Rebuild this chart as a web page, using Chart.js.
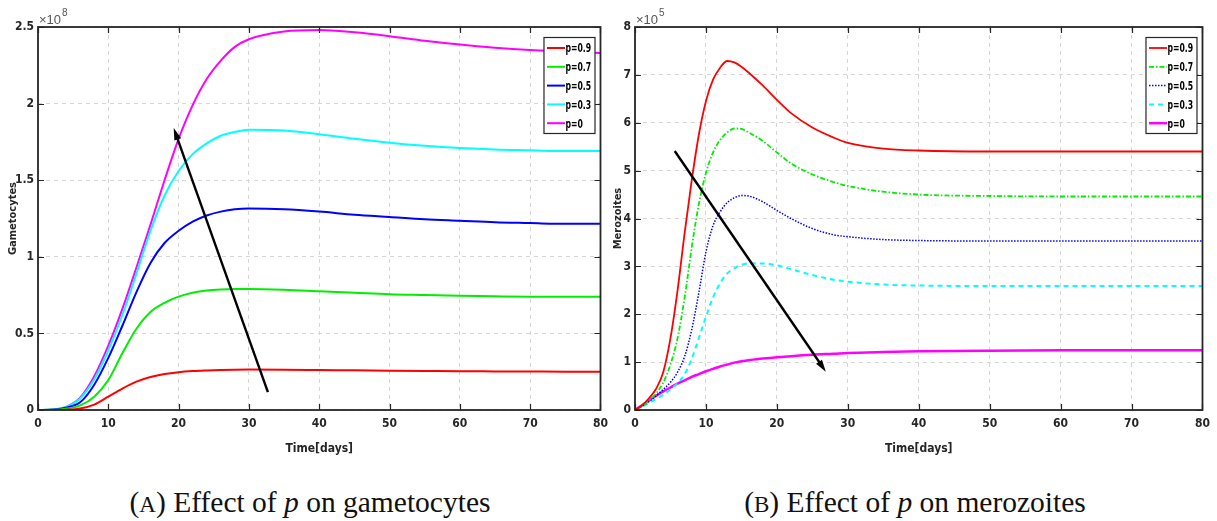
<!DOCTYPE html>
<html>
<head>
<meta charset="utf-8">
<script src="https://cdn.jsdelivr.net/npm/chart.js@4.4.1/dist/chart.umd.min.js"></script>
<style>
  body { margin: 0; background: #fff; width: 1217px; height: 521px; position: relative; overflow: hidden; }
  .panel { position: absolute; top: 0; height: 470px; }
  .caption { position: absolute; top: 484px; font-family: 'Liberation Serif', 'Times New Roman', serif; font-size: 29.5px; line-height: 36px; color: #111; white-space: nowrap; transform: translateX(-50%); }
  .sc { font-size: 0.78em; }
</style>
</head>
<body>
<div class="panel" style="left:0;width:615px"><canvas id="gameto"></canvas></div>
<div class="panel" style="left:612px;width:605px"><canvas id="merozo"></canvas></div>
<div class="caption" style="left:310px">(<span class="sc">A</span>) Effect of <i>p</i> on gametocytes</div>
<div class="caption" style="left:915px">(<span class="sc">B</span>) Effect of <i>p</i> on merozoites</div>

<script>
// time points (days)
const gametoDays = [0, 2, 4, 6, 8, 10, 12, 14, 16, 18, 20, 22, 24, 26, 28, 30, 35, 40, 45, 50, 55, 60, 65, 70, 75, 80];
const merozoDays = [0, 1, 2, 3, 4, 5, 6, 7, 8, 9, 10, 11, 12, 13, 14, 15, 16, 18, 20, 22, 25, 28, 30, 35, 40, 50, 60, 70, 80];

const pLabels = ['p=0.9', 'p=0.7', 'p=0.5', 'p=0.3', 'p=0'];

// gametocytes, x10^8
const gameto09 = [0, 0, 0.002, 0.01, 0.035, 0.087, 0.14, 0.185, 0.215, 0.235, 0.247, 0.254, 0.258, 0.261, 0.263, 0.264, 0.263, 0.261, 0.259, 0.257, 0.255, 0.253, 0.252, 0.251, 0.25, 0.25];
const gameto07 = [0, 0.001, 0.008, 0.03, 0.087, 0.196, 0.37, 0.53, 0.64, 0.7, 0.74, 0.765, 0.78, 0.787, 0.79, 0.79, 0.785, 0.775, 0.765, 0.755, 0.75, 0.745, 0.742, 0.74, 0.74, 0.74];
const gameto05 = [0, 0.002, 0.015, 0.05, 0.165, 0.34, 0.55, 0.77, 0.96, 1.09, 1.17, 1.23, 1.27, 1.295, 1.31, 1.315, 1.31, 1.295, 1.275, 1.26, 1.245, 1.235, 1.225, 1.22, 1.215, 1.215];
const gameto03 = [0, 0.003, 0.02, 0.075, 0.2, 0.39, 0.62, 0.89, 1.17, 1.4, 1.56, 1.67, 1.74, 1.79, 1.815, 1.83, 1.825, 1.8, 1.77, 1.745, 1.725, 1.71, 1.7, 1.695, 1.69, 1.69];
const gameto00 = [0, 0.003, 0.02, 0.08, 0.22, 0.42, 0.66, 0.93, 1.21, 1.5, 1.77, 1.99, 2.16, 2.28, 2.37, 2.42, 2.47, 2.48, 2.465, 2.44, 2.41, 2.385, 2.365, 2.35, 2.34, 2.33];

// merozoites, x10^5
const merozo09 = [0, 0.1, 0.25, 0.45, 0.8, 1.5, 2.5, 3.7, 4.8, 5.75, 6.45, 6.9, 7.15, 7.29, 7.26, 7.17, 7.05, 6.78, 6.48, 6.2, 5.9, 5.69, 5.58, 5.46, 5.42, 5.4, 5.4, 5.4, 5.4];
const merozo07 = [0, 0.09, 0.2, 0.35, 0.58, 0.95, 1.5, 2.35, 3.4, 4.3, 4.95, 5.38, 5.64, 5.8, 5.88, 5.87, 5.8, 5.62, 5.38, 5.15, 4.92, 4.76, 4.68, 4.56, 4.5, 4.47, 4.46, 4.46, 4.46];
const merozo05 = [0, 0.08, 0.18, 0.3, 0.43, 0.58, 0.79, 1.12, 1.68, 2.45, 3.3, 3.85, 4.14, 4.33, 4.43, 4.48, 4.47, 4.35, 4.17, 4.0, 3.79, 3.66, 3.62, 3.56, 3.54, 3.53, 3.53, 3.53, 3.53];
const merozo03 = [0, 0.07, 0.15, 0.23, 0.32, 0.43, 0.56, 0.75, 1.07, 1.5, 1.95, 2.35, 2.65, 2.85, 2.96, 3.03, 3.06, 3.06, 3.02, 2.94, 2.82, 2.72, 2.68, 2.62, 2.6, 2.59, 2.59, 2.59, 2.59];
const merozo00 = [0, 0.1, 0.2, 0.3, 0.39, 0.47, 0.55, 0.62, 0.69, 0.75, 0.81, 0.86, 0.91, 0.95, 0.99, 1.02, 1.04, 1.075, 1.1, 1.125, 1.155, 1.175, 1.19, 1.21, 1.225, 1.24, 1.248, 1.25, 1.25];

const xTicks = [0, 10, 20, 30, 40, 50, 60, 70, 80];
const gametoTicks = [0, 0.5, 1, 1.5, 2, 2.5];
const merozoTicks = [0, 1, 2, 3, 4, 5, 6, 7, 8];

const colors = ['#ff0000', '#00ee00', '#0000ff', '#00ffff', '#ff00ff'];
const fontFamily = "'Liberation Sans Narrow', 'DejaVu Sans Condensed', Arial, sans-serif";
const axisFont = { family: fontFamily, size: 12, weight: 'bold' };
const ink = '#262626';

function series(days, values) {
  return days.map((d, i) => ({ x: d, y: values[i] }));
}

// frame, inward ticks, exponent, arrow and boxed legend
const decorPlugin = {
  id: 'decor',
  afterDraw(chart, args, opts) {
    const { ctx, chartArea: a, scales } = chart;
    const sx = scales.x, sy = scales.y;
    ctx.save();

    ctx.strokeStyle = ink;
    ctx.lineWidth = 1.2;
    ctx.beginPath();
    xTicks.forEach(v => {
      const px = Math.round(sx.getPixelForValue(v)) + 0.5;
      ctx.moveTo(px, a.bottom); ctx.lineTo(px, a.bottom - 6);
      ctx.moveTo(px, a.top); ctx.lineTo(px, a.top + 6);
    });
    opts.yTicks.forEach(v => {
      const py = Math.round(sy.getPixelForValue(v)) + 0.5;
      ctx.moveTo(a.left, py); ctx.lineTo(a.left + 6, py);
      ctx.moveTo(a.right, py); ctx.lineTo(a.right - 6, py);
    });
    ctx.stroke();
    ctx.lineWidth = 1.8;
    ctx.strokeRect(a.left, a.top, a.width, a.height);

    // x10^n above the y axis
    ctx.fillStyle = '#555';
    ctx.textBaseline = 'alphabetic';
    ctx.textAlign = 'left';
    ctx.font = "13px 'Liberation Sans', Arial, sans-serif";
    ctx.fillText('\u00d710', a.left + 1, a.top - 3);
    const w = ctx.measureText('\u00d710').width;
    ctx.font = "10px 'Liberation Sans', Arial, sans-serif";
    ctx.fillText(opts.exponent, a.left + 2 + w, a.top - 11);

    // trend arrow
    const [t0, v0] = opts.arrow.from, [t1, v1] = opts.arrow.to;
    const x0 = sx.getPixelForValue(t0), y0 = sy.getPixelForValue(v0);
    const x1 = sx.getPixelForValue(t1), y1 = sy.getPixelForValue(v1);
    const ang = Math.atan2(y1 - y0, x1 - x0);
    const head = 12, half = 3.6;
    ctx.strokeStyle = '#000';
    ctx.fillStyle = '#000';
    ctx.lineWidth = 2.4;
    ctx.beginPath();
    ctx.moveTo(x0, y0);
    ctx.lineTo(x1 - Math.cos(ang) * head * 0.8, y1 - Math.sin(ang) * head * 0.8);
    ctx.stroke();
    ctx.beginPath();
    ctx.moveTo(x1, y1);
    ctx.lineTo(x1 - Math.cos(ang) * head - Math.sin(ang) * half, y1 - Math.sin(ang) * head + Math.cos(ang) * half);
    ctx.lineTo(x1 - Math.cos(ang) * head + Math.sin(ang) * half, y1 - Math.sin(ang) * head - Math.cos(ang) * half);
    ctx.closePath();
    ctx.fill();

    // legend box, top right inside the axes
    const bx = a.right - 56.5, by = a.top + 10.5, bw = 51, bh = 96;
    ctx.fillStyle = '#fff';
    ctx.fillRect(bx, by, bw, bh);
    ctx.strokeStyle = ink;
    ctx.lineWidth = 1.2;
    ctx.strokeRect(bx, by, bw, bh);
    ctx.font = 'bold 13px ' + fontFamily;
    ctx.textBaseline = 'middle';
    chart.data.datasets.forEach((ds, i) => {
      const ry = by + 10.5 + i * 18.8;
      ctx.strokeStyle = ds.borderColor;
      ctx.lineWidth = ds.borderWidth;
      ctx.setLineDash(ds.borderDash || []);
      ctx.beginPath();
      ctx.moveTo(bx + 3, ry); ctx.lineTo(bx + 21, ry);
      ctx.stroke();
      ctx.setLineDash([]);
      // condensed label text
      ctx.save();
      ctx.translate(bx + 21.5, ry + 1);
      ctx.scale(0.66, 1);
      ctx.fillStyle = '#000';
      ctx.fillText(ds.label, 0, 0);
      ctx.restore();
    });
    ctx.restore();
  }
};

function makeChart(id, days, sets, styles, yMax, yTicks, yTitle, yWidth, padRight, decor) {
  return new Chart(document.getElementById(id), {
    type: 'line',
    data: {
      datasets: sets.map((vals, i) => Object.assign({
        label: pLabels[i],
        data: series(days, vals),
        borderColor: colors[i],
        pointRadius: 0,
        fill: false,
        cubicInterpolationMode: 'monotone'
      }, styles[i]))
    },
    options: {
      responsive: true,
      maintainAspectRatio: false,
      animation: false,
      layout: { padding: { top: 27, right: padRight, left: 0, bottom: 0 } },
      plugins: { legend: { display: false }, tooltip: { enabled: false }, decor: decor },
      scales: {
        x: {
          type: 'linear', min: 0, max: 80,
          afterBuildTicks: s => { s.ticks = xTicks.map(v => ({ value: v })); },
          ticks: { font: axisFont, color: ink, padding: 7, maxRotation: 0, callback: v => String(v) },
          grid: { color: '#d6d6d6', lineWidth: 1, drawTicks: false },
          border: { display: false, dash: [4, 4] },
          title: { display: true, text: 'Time[days]', font: axisFont, color: ink, padding: { top: 0, bottom: 14 } },
          afterFit: s => { s.height = 60; }
        },
        y: {
          min: 0, max: yMax,
          afterBuildTicks: s => { s.ticks = yTicks.map(v => ({ value: v })); },
          ticks: { font: axisFont, color: ink, padding: 4, callback: v => String(v) },
          grid: { color: '#d6d6d6', lineWidth: 1, drawTicks: false },
          border: { display: false, dash: [4, 4] },
          title: { display: true, text: yTitle, font: { family: fontFamily, size: 11, weight: 'bold' }, color: ink, padding: { top: decor.titlePad, bottom: 0 } },
          afterFit: s => { s.width = yWidth; }
        }
      }
    },
    plugins: [decorPlugin]
  });
}

makeChart('gameto', gametoDays,
  [gameto09, gameto07, gameto05, gameto03, gameto00],
  [{ borderWidth: 2 }, { borderWidth: 2 }, { borderWidth: 2 }, { borderWidth: 2 }, { borderWidth: 2 }],
  2.5, gametoTicks, 'Gametocytes', 38, 9,
  { exponent: '8', yTicks: gametoTicks, titlePad: 7, arrow: { from: [32.7, 0.117], to: [19.3, 1.84] } });

makeChart('merozo', merozoDays,
  [merozo09, merozo07, merozo05, merozo03, merozo00],
  [{ borderWidth: 1.8 },
   { borderWidth: 1.8, borderDash: [5, 2, 1.5, 2] },
   { borderWidth: 1.5, borderDash: [1.5, 1.5] },
   { borderWidth: 2, borderDash: [5, 4] },
   { borderWidth: 2.5 }],
  8, merozoTicks, 'Merozoites', 23, 8,
  { exponent: '5', yTicks: merozoTicks, titlePad: 0, arrow: { from: [5.6, 5.41], to: [26.9, 0.8] } });
</script>
</body>
</html>
